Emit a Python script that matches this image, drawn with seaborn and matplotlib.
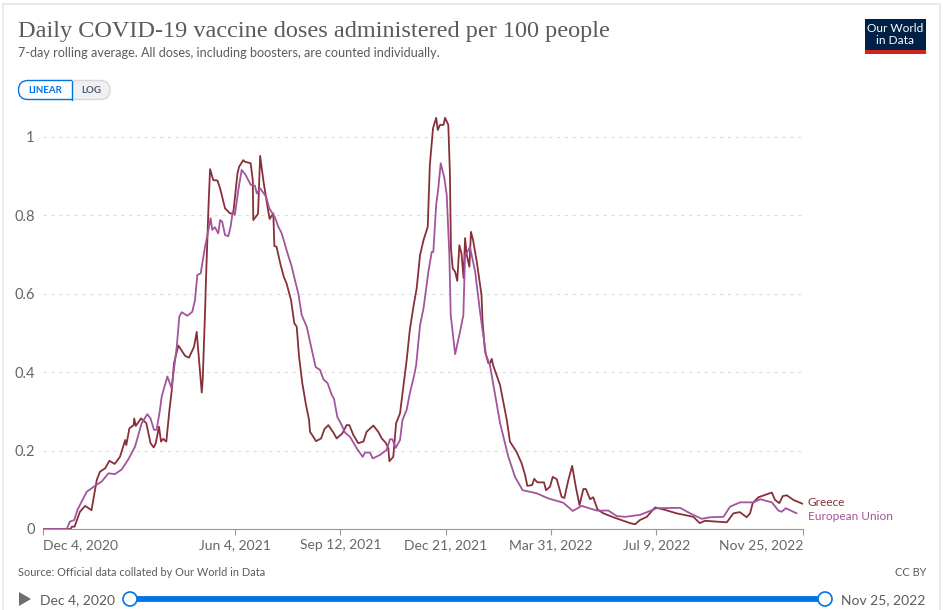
# Daily COVID-19 vaccine doses per 100 people, Greece vs EU
import pandas as pd
import matplotlib.pyplot as plt
from matplotlib.patches import Rectangle, FancyBboxPatch, Polygon, Circle
import seaborn as sns

# days since Dec 4, 2020 and values
greece_days = [0, 26, 27.5, 30, 35, 40, 46, 51, 54, 59, 63, 68, 73, 78, 79, 82, 86, 86.5, 88, 93, 98, 102, 105, 107, 110,
               112, 114, 117, 120, 122, 124.3, 128.4, 134.7, 138.5, 143.3, 145.8, 150.6, 151.5, 153.7, 154.6, 157, 158.5,
               161.5, 165.5, 168, 172.7, 177.5, 180.5, 184.5, 186, 190, 191.5, 197, 199, 199.5, 204, 206, 209, 213, 215,
               218.5, 219.5, 221.5, 225.5, 228.6,
               231, 235.3, 238.4, 240.7, 242.9, 246, 249.2, 252.4, 253.3, 256.5, 259, 263.8, 267, 270.7, 275.5, 278.6, 284,
               288, 290.6, 294.4, 299, 304, 307, 313.4, 318, 321.4, 325.4, 327.6, 328.6, 332.3, 335, 338.7, 341.8, 345, 348,
               351.4, 354.5, 357.7, 361, 365, 367, 370, 373, 374.5, 376.7, 380, 381.4, 384.5, 386, 387, 388.7, 391, 393,
               395, 397, 399, 400.4, 402, 404.5, 406, 408, 411.5, 416, 417, 419.4, 422.5, 424, 425.7, 427, 433.6, 440, 443,
               449.4, 454, 457.3, 459.5, 464, 466, 469, 475.3, 477.2, 481, 483.6, 487.4, 492, 494.6, 498.4, 502, 505.7, 509,
               512.6, 515, 519, 522, 526, 531.6, 541, 557, 561.7, 566.4, 572.8, 580.6, 588.5, 601, 617, 620, 623, 628, 648.7,
               655, 661, 667.6, 670.8, 673.3, 678.7, 685, 691.4, 694.5, 698.6, 701.8, 705.6, 712, 721]
greece_vals = [0, 0, .006, .006, .044, .059, .048, .125, .146, .155, .174, .166, .184, .227, .214, .257, .265, .282, .263,
               .282, .27, .219, .208, .219, .261,
               .223, .23, .223, .305, .35, .423, .468, .442, .437, .465, .503, .348, .38, .551, .635, .822, .918,
               .89, .889, .869, .818, .805, .805, .907, .924, .941, .937, .933, .89, .788, .804, .952, .89, .822, .791,
               .805, .722, .72, .673, .642,
               .627, .584, .525, .516, .44, .372, .321, .278, .248, .235, .224, .231, .255, .265, .246, .231, .244,
               .265, .265, .24, .219, .223, .248, .264, .248, .231, .219, .206, .173, .184, .27, .295, .363, .431, .508,
               .567, .614, .699, .737, .771, .929, 1.022, 1.049, 1.018, 1.031, 1.031, 1.049,
               1.031, .911, .716, .665, .656, .633, .724, .703, .64, .742, .699, .669, .758, .737, .682, .597, .529, .452,
               .423, .423, .434, .418, .367, .278, .223, .196, .168, .138, .11, .112, .128, .119, .119, .099, .108, .133,
               .127, .082, .079, .125, .161, .104, .061, .102, .102, .076, .081, .05, .04, .03, .015, .012, .023, .031, .055,
               .05, .04, .031, .023, .015, .021, .017, .04, .043, .03, .04, .066, .081, .087, .093, .074, .066, .084, .086,
               .074, .064]

eu_days = [0, 22.5, 25.6, 29.7, 32.6, 36.7, 41.5, 49.3, 55.7, 62, 68.3, 74.7, 81, 87.3, 93.6, 99, 102, 105.3, 107.8, 111,
           112.6, 118, 122, 126.9, 129.3, 131.6, 137, 141.6, 144.2, 146.4, 149.6, 153.7, 157, 159, 160.6, 163, 166.3, 168,
           170, 172.7, 175.8, 178, 180, 182, 185.3, 188.5, 192.3, 197, 201, 202.8, 206, 208.4, 211.6, 214.7, 220, 223.3,
           226.5, 231, 236, 239, 242.2, 245.4, 250.2, 255, 258.7, 262.8, 266, 270, 273.9, 276, 279.2, 283.4, 286.5, 291.3,
           297.6, 303.3, 305.5, 310.2, 312.8, 319.7, 326, 329.2, 331.4, 334.6, 338.7, 341, 345, 348, 352.2, 354, 357.7, 361,
           365.6, 368.8, 370.3, 373, 375, 377.3, 380.8, 383, 385.5, 386.8, 391, 395.6, 398.8, 400.4, 402, 405, 410, 414.6,
           417.7, 420.3, 424, 433.6, 441.5, 447.8, 455, 468.4, 479.4, 493.6, 502.6, 511, 525.3, 536.4, 544.3, 552.2, 566.4,
           582.3, 604.4, 613.9, 625, 632.8, 645.5, 651.8, 661.3, 674, 680.3, 691.4, 697.7, 700.8, 704.6, 715]
eu_vals = [0, 0, .019, .023, .048, .07, .095, .11, .121, .142, .14, .152, .178, .21, .27, .293, .282, .253, .253, .305,
           .338, .389, .359, .465, .542, .553, .544, .554, .584, .648, .652, .72, .763, .793, .763, .77, .754, .788,
           .784, .75, .747, .771, .81, .801, .865, .916, .903, .878, .876, .856, .869, .86, .848, .818, .795, .771,
           .754, .712, .669, .635, .601, .546, .516, .457, .413, .406, .382, .372, .342, .333, .286, .265, .246, .235,
           .206, .184, .195, .195, .18, .189, .202, .229, .229, .207, .227, .278, .304, .346, .393, .418, .52, .563,
           .656, .707, .707, .827, .869, .933, .895, .852, .699, .546, .446, .503, .546, .699, .703, .72, .656, .554,
           .495, .444, .418, .27, .184, .133, .099, .091, .078, .067, .046, .059, .047, .047, .033, .031, .036,
           .053, .054, .04, .026, .03, .031, .057, .068, .068, .076, .068, .047, .044, .053, .04]

start = pd.Timestamp("2020-12-04")
tick_days = [0, 182, 282, 382, 482, 582, 721]
tick_labels = ["Dec 4, 2020", "Jun 4, 2021", "Sep 12, 2021", "Dec 21, 2021", "Mar 31, 2022", "Jul 9, 2022", "Nov 25, 2022"]
y_ticks = [0, 0.2, 0.4, 0.6, 0.8, 1]
y_labels = ["0", "0.2", "0.4", "0.6", "0.8", "1"]

GREECE = "#883039"
EU = "#a2559c"
GREY = "#5b5b5b"
BLUE = "#0073e6"

df = pd.concat([
    pd.DataFrame({"day": greece_days, "value": greece_vals, "country": "Greece"}),
    pd.DataFrame({"day": eu_days, "value": eu_vals, "country": "European Union"}),
])
df["date"] = start + pd.to_timedelta(df["day"], unit="D")

sns.set_theme(style="white")
plt.rcParams["font.family"] = ["Lato", "DejaVu Sans"]

W, H = 943, 610
fig = plt.figure(figsize=(W / 100, H / 100), dpi=100)

# page furniture drawn in pixel coordinates
bg = fig.add_axes([0, 0, 1, 1])
bg.set_xlim(0, W)
bg.set_ylim(H, 0)
bg.set_axis_off()
bg.add_patch(Rectangle((3, 4), 937, 620, fc="white", ec="#e6e6e6", lw=1.2))

bg.text(18, 31, "Daily COVID-19 vaccine doses administered per 100 people", family="Liberation Serif",
        fontsize=17.5, color=GREY, va="center")
bg.text(18, 53, "7-day rolling average. All doses, including boosters, are counted individually.",
        fontsize=9.05, color=GREY, va="center")

# logo
bg.add_patch(Rectangle((865, 19), 61, 35, fc="#002147", ec="none"))
bg.add_patch(Rectangle((865, 50), 61, 4, fc="#ce261e", ec="none"))
bg.text(895.5, 34.5, "Our World\nin Data", color="white", fontsize=8.6, ha="center", va="center", linespacing=1.0)

# linear / log toggle
bg.add_patch(FancyBboxPatch((30, 80.5), 80, 19, boxstyle="round,pad=0,rounding_size=9.5", fc="#f0f0f2", ec="#d8d8dc", lw=1))
linear_btn = FancyBboxPatch((18.5, 80.5), 70, 19, boxstyle="round,pad=0,rounding_size=9.5", fc="white", ec=BLUE, lw=1)
bg.add_patch(linear_btn)
linear_btn.set_clip_path(Rectangle((0, 70), 72, 40, transform=bg.transData))
bg.plot([72, 72], [80.5, 99.5], color=BLUE, lw=1)
bg.text(45, 90.5, "LINEAR", color=BLUE, fontsize=7, fontweight="bold", ha="center", va="center")
bg.text(91, 90.5, "LOG", color="#4e5f78", fontsize=7, fontweight="bold", ha="center", va="center")

# footer and time slider
bg.text(18, 572, "Source: Official data collated by Our World in Data", fontsize=7.9, color=GREY, va="center")
bg.text(926, 572, "CC BY", fontsize=7.9, color=GREY, va="center", ha="right")
bg.add_patch(Polygon([(19, 592), (31, 599), (19, 606)], fc="#6e6e6e", ec="none"))
bg.text(40, 600, "Dec 4, 2020", fontsize=10, color=GREY, va="center")
bg.text(841, 600, "Nov 25, 2022", fontsize=10, color=GREY, va="center")
bg.plot([130, 825], [599, 599], color=BLUE, lw=4.2, solid_capstyle="butt")
for cx in (130, 825):
    bg.add_patch(Circle((cx, 599), 7, fc="white", ec=BLUE, lw=1.2, zorder=5))

# series labels at the right end of the lines
bg.text(808, 503, "Greece", fontsize=8.6, color=GREECE, va="center")
bg.text(808, 517, "European Union", fontsize=8.6, color=EU, va="center")

# chart area: x 43-803 px, y=0 at 529 px, y=1 at 137 px
y_top = 1.056
ax = fig.add_axes([43 / W, 1 - 529 / H, 760 / W, (y_top * 392) / H])
ax.patch.set_alpha(0)
sns.lineplot(data=df, x="date", y="value", hue="country", hue_order=["Greece", "European Union"],
             palette={"Greece": GREECE, "European Union": EU}, linewidth=1.3, legend=False, estimator=None,
             sort=False, ax=ax)
ax.set_xlim(start, start + pd.Timedelta(days=721))
ax.set_ylim(0, y_top)
ax.set_xlabel("")
ax.set_ylabel("")

ax.set_yticks(y_ticks)
ax.set_yticklabels(y_labels)
tick_dates = [start + pd.Timedelta(days=d) for d in tick_days]
ax.set_xticks(tick_dates)
ax.set_xticklabels(tick_labels)
ax.get_xticklabels()[0].set_ha("left")
ax.get_xticklabels()[-1].set_ha("right")

ax.tick_params(axis="y", length=0, pad=6, labelsize=10.5, labelcolor="#666666")
ax.tick_params(axis="x", length=4, width=0.8, color="#999999", pad=3, labelsize=10, labelcolor="#666666", bottom=True)
ax.grid(axis="y", color="#dddddd", linestyle=(0, (3, 4)), linewidth=0.8)
ax.set_axisbelow(True)
for side in ("top", "left", "right"):
    ax.spines[side].set_visible(False)
ax.spines["bottom"].set_color("#999999")
ax.spines["bottom"].set_linewidth(0.8)

fig.savefig("out.png", dpi=100)
